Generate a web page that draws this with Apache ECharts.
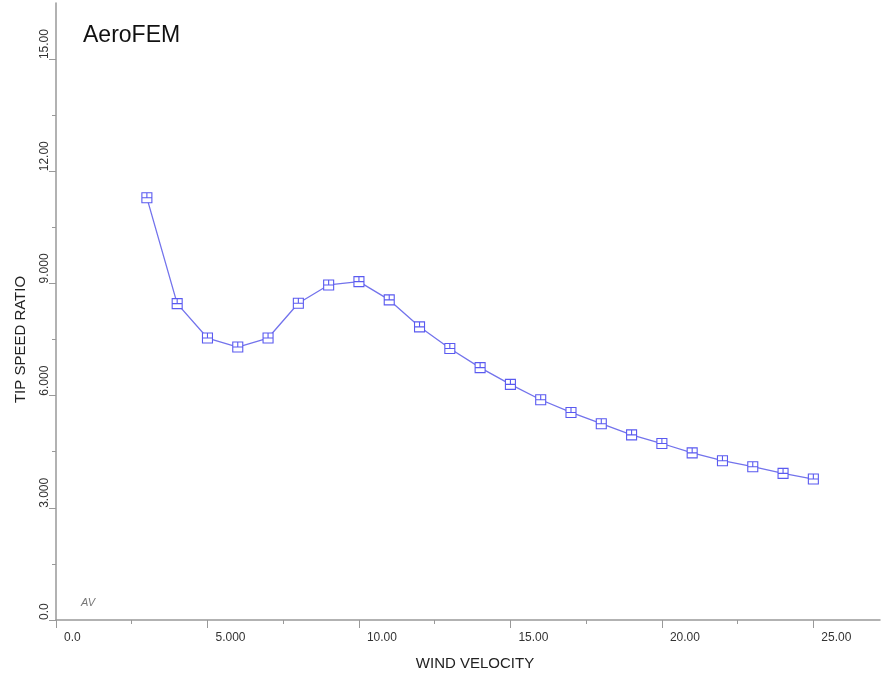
<!DOCTYPE html>
<html>
<head>
<meta charset="utf-8">
<script src="https://cdn.jsdelivr.net/npm/echarts@6/dist/echarts.min.js"></script>
<style>html,body{margin:0;padding:0;background:#fff;}#c{width:882px;height:679px;}</style>
</head>
<body>
<div id="c"></div>
<script>
const windVelocity = [3,4,5,6,7,8,9,10,11,12,13,14,15,16,17,18,19,20,21,22,23,24,25];
const tipSpeedRatio = [11.29,8.46,7.54,7.30,7.54,8.47,8.96,9.05,8.56,7.84,7.26,6.75,6.30,5.89,5.55,5.25,4.95,4.72,4.47,4.26,4.10,3.92,3.77];
const xTickValues = [0,5,10,15,20,25];
const xTickLabels = ["0.0","5.000","10.00","15.00","20.00","25.00"];
const yTickValues = [0,3,6,9,12,15];
const yTickLabels = ["0.0","3.000","6.000","9.000","12.00","15.00"];
const xMinorValues = [2.5,7.5,12.5,17.5,22.5];
const yMinorValues = [1.5,4.5,7.5,10.5,13.5];

const X_MAX = 27.2, Y_MAX = 16.5;
const chart = echarts.init(document.getElementById('c'));
const FONT = 'Liberation Sans, Arial, sans-serif';
function lookup(vals, labels, v) {
  for (let i = 0; i < vals.length; i++) if (Math.abs(vals[i] - v) < 1e-6) return labels[i];
  return '';
}
const AX = '#999';
const markerPath = 'path://M0,0L10,0L10,10L0,10Z M5,0L5,5 M0,5L10,5';
chart.setOption({
  animation: false,
  backgroundColor: '#fff',
  title: {
    text: 'AeroFEM', left: 78, top: 19,
    textStyle: {fontFamily: FONT, fontSize: 23, fontWeight: 'normal', color: '#111'}
  },
  graphic: [{
    type: 'text', left: 81, top: 597,
    style: {text: 'AV', fontFamily: FONT, fontSize: 11, fontStyle: 'italic', fill: '#777'}
  }],
  grid: {left: 56, right: 2, top: 3, bottom: 59},
  xAxis: [{
    type: 'value', min: 0, max: X_MAX,
    name: 'WIND VELOCITY', nameLocation: 'middle', nameGap: 36,
    nameTextStyle: {fontFamily: FONT, fontSize: 15, color: '#222', padding: [0,0,0,14]},
    axisLine: {show: true, lineStyle: {color: AX, width: 1.5}},
    axisTick: {show: true, length: 8, customValues: xTickValues, lineStyle: {color: AX}},
    splitLine: {show: false},
    axisLabel: {
      fontFamily: FONT, fontSize: 12, color: '#333', align: 'left', margin: 12,
      padding: [0,0,0,8], customValues: xTickValues,
      formatter: v => lookup(xTickValues, xTickLabels, v)
    }
  }, {
    type: 'value', min: 0, max: X_MAX, position: 'bottom',
    axisLine: {show: false},
    axisTick: {show: true, length: 4, customValues: xMinorValues, lineStyle: {color: AX}},
    axisLabel: {show: false}, splitLine: {show: false}
  }],
  yAxis: [{
    type: 'value', min: 0, max: Y_MAX,
    name: 'TIP SPEED RATIO', nameLocation: 'middle', nameGap: 28, nameRotate: 90,
    nameTextStyle: {fontFamily: FONT, fontSize: 15, color: '#222', padding: [0,56,0,0]},
    axisLine: {show: true, lineStyle: {color: AX, width: 1.5}},
    axisTick: {show: true, length: 7, customValues: yTickValues, lineStyle: {color: AX}},
    splitLine: {show: false},
    axisLabel: {
      fontFamily: FONT, fontSize: 12, color: '#333', rotate: 90, align: 'left',
      verticalAlign: 'bottom', margin: 5, customValues: yTickValues,
      formatter: v => lookup(yTickValues, yTickLabels, v)
    }
  }, {
    type: 'value', min: 0, max: Y_MAX, position: 'left',
    axisLine: {show: false},
    axisTick: {show: true, length: 4, customValues: yMinorValues, lineStyle: {color: AX}},
    axisLabel: {show: false}, splitLine: {show: false}
  }],
  series: [{
    type: 'line',
    data: windVelocity.map((x, i) => [x, tipSpeedRatio[i]]),
    symbol: markerPath, symbolSize: 10, showAllSymbol: true,
    lineStyle: {color: '#7373ec', width: 1.3},
    itemStyle: {color: '#fff', borderColor: '#5a5af0', borderWidth: 1.1},
    z: 3
  }]
});
</script>
</body>
</html>
